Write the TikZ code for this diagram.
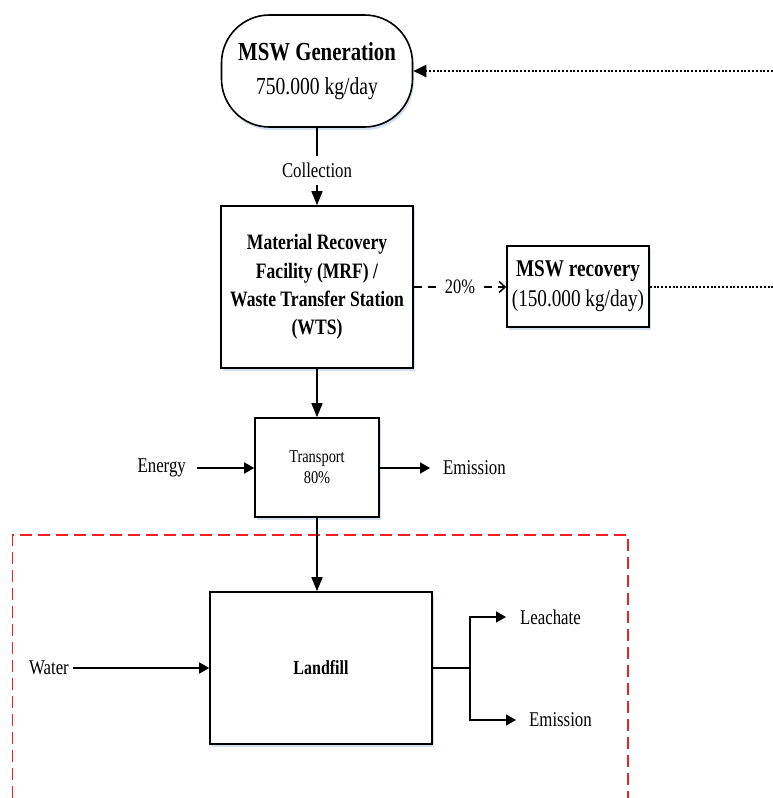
\documentclass[tikz,border=0pt]{standalone}
\usepackage{fontspec}
\setmainfont{Liberation Serif}[FakeStretch=0.8]
\usetikzlibrary{arrows.meta,calc}
\definecolor{shadowc}{RGB}{212,223,240}
\definecolor{redline}{RGB}{238,32,36}
\begin{document}
\begin{tikzpicture}[x=1pt,y=-1pt,
  box/.style={draw=black, line width=1.6pt, fill=white, inner sep=0pt, align=center,
    preaction={fill=shadowc, transform canvas={xshift=1.5pt,yshift=-3pt}}},
  lbl/.style={font=\fontsize{21}{25}\selectfont, inner sep=0pt},
  conn/.style={draw=black, line width=1.5pt},
  vtip/.style={-{Triangle[length=14pt,width=11pt]}},
  htip/.style={-{Triangle[length=10pt,width=11pt]}},
  dotline/.style={line width=2pt, dash pattern=on 2pt off 1.8pt},
]
\useasboundingbox (0,0) rectangle (773,798);

% red dashed boundary
\draw[redline, line width=1.5pt, dash pattern=on 12pt off 6pt]
  (12.5,798) -- (12.5,535) -- (628,535) -- (628,798);

% boxes
\node[box, rounded corners=48pt, minimum width=191pt, minimum height=112pt,
  font=\fontsize{26}{34}\selectfont] (gen) at (317,71)
  {{\bfseries MSW Generation}\\{\fontsize{24.5}{34}\selectfont 750.000 kg/day}};

\node[box, minimum width=192pt, minimum height=162pt,
  font=\fontsize{22}{28.3}\selectfont\bfseries] (mrf) at (317,287)
  {Material Recovery\\Facility (MRF) /\\Waste Transfer Station\\(WTS)};

\node[box, minimum width=142pt, minimum height=81pt,
  font=\fontsize{24}{30}\selectfont] (rec) at (578,286.5)
  {{\bfseries MSW recovery}\\(150.000 kg/day)};

\node[box, minimum width=124pt, minimum height=99pt,
  font=\fontsize{18}{21}\selectfont] (tr) at (317,467.5)
  {Transport\\80\%};

\node[box, minimum width=222pt, minimum height=152pt,
  font=\fontsize{20}{24}\selectfont\bfseries] (lf) at (321,668)
  {Landfill};

% labels
\node[lbl, anchor=east] (energy) at (186,468) {Energy};
\node[lbl, anchor=west] (em1) at (443,468) {Emission};
\node[lbl, anchor=east] (water) at (69,668) {Water};
\node[lbl, anchor=west] (leach) at (520,617) {Leachate};
\node[lbl, anchor=west] (em2) at (529,720) {Emission};
\coordinate (j) at (470,668);
\coordinate (r1) at (773,288);
\coordinate (r2) at (773,71);

% connectors
\draw[conn, vtip] (gen.south) -- node[pos=0.55, lbl, fill=white, inner ysep=7pt, inner xsep=2pt] {Collection} (mrf.north);

\draw[conn, dash pattern=on 8pt off 6pt, -{Straight Barb[length=6pt,width=11pt]}]
  (mrf.east) -- node[lbl, font=\fontsize{20.5}{24}\selectfont, fill=white, inner xsep=3pt, inner ysep=2pt] {20\%} (mrf.east -| rec.west);

\draw[dotline] (rec.east) -- (r1 |- rec.east);
\draw[dotline, -{Triangle[length=13pt,width=12pt]}] (r2) -- (gen.east);

\draw[conn, vtip] (mrf.south) -- (tr.north);
\draw[conn, htip, shorten <=11pt] (energy.east) -- (energy.east -| tr.west);
\draw[conn, htip, shorten >=13pt] (tr.east |- em1.west) -- (em1.west);
\draw[conn, vtip] (tr.south) -- (tr.south |- lf.north);
\draw[conn, htip, shorten <=4pt] (water.east) -- (water.east -| lf.west);
\draw[conn] (lf.east) -- (j);
\draw[conn, htip, shorten >=14pt] (j) |- (leach.west);
\draw[conn, htip, shorten >=13pt] (j) |- (em2.west);
\end{tikzpicture}
\end{document}
